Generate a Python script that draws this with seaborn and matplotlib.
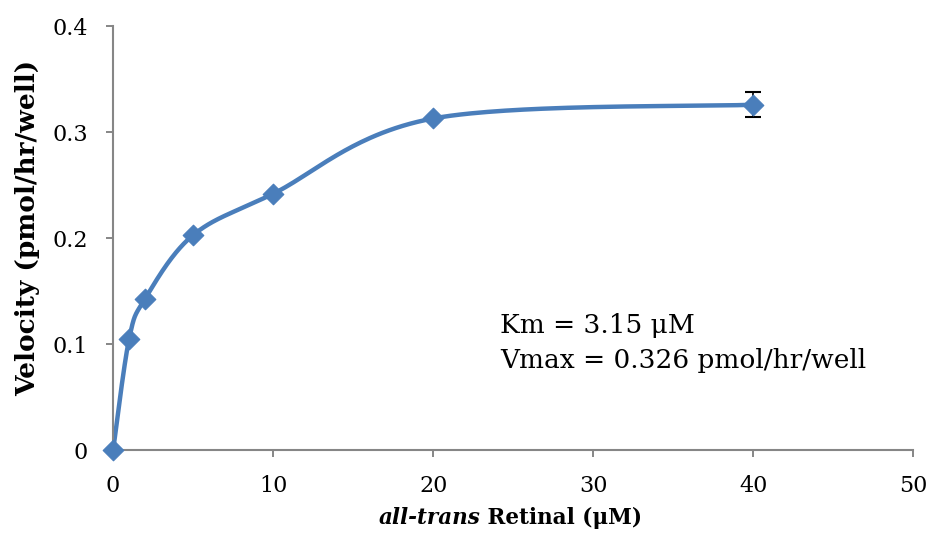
import numpy as np
import pandas as pd
import matplotlib
matplotlib.use("Agg")
import matplotlib.pyplot as plt
import seaborn as sns
from matplotlib.offsetbox import TextArea, HPacker, AnchoredOffsetbox

conc = [0, 1, 2, 5, 10, 20, 40]
velocity = [0.0, 0.105, 0.143, 0.203, 0.242, 0.313, 0.326]
errors = [0, 0, 0, 0, 0, 0, 0.012]
x_ticks = [0, 10, 20, 30, 40, 50]
y_ticks = [0, 0.1, 0.2, 0.3, 0.4]
y_tick_labels = ["0", "0.1", "0.2", "0.3", "0.4"]

sns.set_theme(style="white")
plt.rcParams['font.family'] = ['DejaVu Serif']
plt.rcParams['text.color'] = 'black'
plt.rcParams['axes.labelcolor'] = 'black'
plt.rcParams['xtick.color'] = 'black'
plt.rcParams['ytick.color'] = 'black'

color = "#4a7ebb"
fig = plt.figure(figsize=(9.31, 5.36), dpi=100)
ax = fig.add_axes([0.1215, 0.160, 0.8595, 0.791])

# Excel-like smooth line (cubic Bezier through the data points)
px = np.array(conc, float)
py = np.array(velocity, float)
n = len(px)
cx, cy = [], []
for i in range(n - 1):
    p0 = (px[max(i - 1, 0)], py[max(i - 1, 0)])
    p1 = (px[i], py[i])
    p2 = (px[i + 1], py[i + 1])
    p3 = (px[min(i + 2, n - 1)], py[min(i + 2, n - 1)])
    c1 = (p1[0] + (p2[0] - p0[0]) / 6, p1[1] + (p2[1] - p0[1]) / 6)
    c2 = (p2[0] - (p3[0] - p1[0]) / 6, p2[1] - (p3[1] - p1[1]) / 6)
    t = np.linspace(0, 1, 60)
    bx = (1-t)**3*p1[0] + 3*(1-t)**2*t*c1[0] + 3*(1-t)*t**2*c2[0] + t**3*p2[0]
    by = (1-t)**3*p1[1] + 3*(1-t)**2*t*c1[1] + 3*(1-t)*t**2*c2[1] + t**3*p2[1]
    cx.extend(bx); cy.extend(by)
curve = pd.DataFrame({"x": cx, "y": cy})
sns.lineplot(data=curve, x="x", y="y", ax=ax, color=color, linewidth=3.2, sort=False, estimator=None)

ax.errorbar(conc, velocity, yerr=errors, fmt="none", ecolor="black", elinewidth=1.2, capsize=6, capthick=1.5, zorder=3)
df = pd.DataFrame({"conc": conc, "velocity": velocity})
sns.scatterplot(data=df, x="conc", y="velocity", ax=ax, marker="D", s=110, color=color, edgecolor=color, zorder=4)

ax.set_xlim(0, 50)
ax.set_ylim(0, 0.4)
ax.set_xticks(x_ticks)
ax.set_xticklabels([str(v) for v in x_ticks])
ax.set_yticks(y_ticks)
ax.set_yticklabels(y_tick_labels)
ax.tick_params(axis="both", labelsize=16, direction="out", length=5, width=1.4, color="#868686", left=True, bottom=True)
ax.tick_params(axis="y", pad=13)
ax.tick_params(axis="x", pad=13)
for s in ["top", "right"]:
    ax.spines[s].set_visible(False)
for s in ["left", "bottom"]:
    ax.spines[s].set_color("#868686")
    ax.spines[s].set_linewidth(1.5)
for art in ax.collections + ax.lines:
    art.set_clip_on(False)

ax.set_xlabel("")
ax.set_ylabel("Velocity (pmol/hr/well)", fontsize=19, fontweight="bold")
ax.yaxis.set_label_coords(-0.091, 0.524)

# x label with bold-italic part
p1 = TextArea("all-trans", textprops=dict(fontsize=15.5, fontweight="bold", fontstyle="italic", color="black"))
p2 = TextArea(" Retinal (μM)", textprops=dict(fontsize=15.5, fontweight="bold", color="black"))
box = HPacker(children=[p1, p2], align="baseline", pad=0, sep=0)
anch = AnchoredOffsetbox(loc="upper center", child=box, pad=0, frameon=False,
                         bbox_to_anchor=(0.548, 0.054), bbox_transform=fig.transFigure, borderpad=0)
fig.add_artist(anch)

ax.text(24.2, 0.111, "Km = 3.15 μM", fontsize=19, va="baseline", ha="left")
ax.text(24.2, 0.078, "Vmax = 0.326 pmol/hr/well", fontsize=19, va="baseline", ha="left")

fig.savefig("out.png", dpi=100)
